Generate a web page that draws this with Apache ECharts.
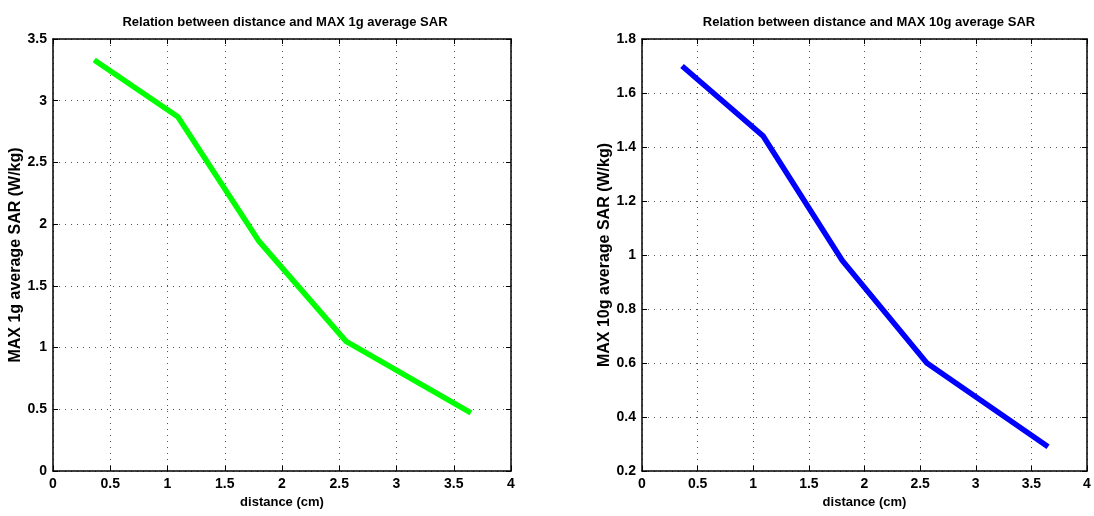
<!DOCTYPE html>
<html>
<head>
<meta charset="utf-8">
<script src="https://cdn.jsdelivr.net/npm/echarts@6/dist/echarts.min.js"></script>
<style>
html,body{margin:0;padding:0;background:#fff;}
#chart{width:1094px;height:516px;}
</style>
</head>
<body>
<div id="chart"></div>
<script>
// distance (cm) of each measurement
var distance = [0.36, 1.09, 1.80, 2.56, 3.65];
// max 1g / 10g averaged SAR (W/kg)
var sar1g = [3.33, 2.87, 1.86, 1.05, 0.47];
var sar10g = [1.70, 1.44, 0.98, 0.60, 0.29];
var titles = ['Relation between distance and MAX 1g average SAR', 'Relation between distance and MAX 10g average SAR'];
var yNames = ['MAX 1g average SAR (W/kg)', 'MAX 10g average SAR (W/kg)'];
var xName = 'distance (cm)';

function pairs(xs, ys){
  var out = [];
  for(var i=0;i<xs.length;i++){ out.push([xs[i], ys[i]]); }
  return out;
}

var font = 'Liberation Sans, Arial, sans-serif';
var dotted = {show:true, lineStyle:{type:[1,5], color:'#555', width:1}};

function fmt(v){ return String(+v.toFixed(1)); }

function mainX(idx){
  return {
    type:'value', gridIndex:idx, min:0, max:4, interval:0.5,
    name:xName, nameLocation:'middle', nameGap:25,
    nameTextStyle:{fontFamily:font, fontWeight:'bold', fontSize:13, color:'#000'},
    axisLine:{show:true, onZero:false, lineStyle:{color:'#000', width:1.5}},
    axisTick:{show:true, inside:true, length:5, lineStyle:{color:'#000'}},
    axisLabel:{fontFamily:font, fontWeight:'bold', fontSize:14, color:'#000', margin:6, formatter:fmt},
    splitLine:dotted
  };
}
function mainY(idx, min, max, step){
  return {
    type:'value', gridIndex:idx, min:min, max:max, interval:step,
    name:yNames[idx], nameLocation:'middle', nameGap:29,
    nameTextStyle:{fontFamily:font, fontWeight:'bold', fontSize:16, color:'#000'},
    axisLine:{show:true, onZero:false, lineStyle:{color:'#000', width:1.5}},
    axisTick:{show:true, inside:true, length:5, lineStyle:{color:'#000'}},
    axisLabel:{fontFamily:font, fontWeight:'bold', fontSize:14, color:'#000', margin:6, formatter:fmt},
    splitLine:dotted
  };
}
function boxX(idx){
  return {type:'value', gridIndex:idx, position:'top', min:0, max:4, interval:0.5,
    axisLine:{show:true, onZero:false, lineStyle:{color:'#000', width:1.5}},
    axisTick:{show:true, inside:true, length:5, lineStyle:{color:'#000'}},
    axisLabel:{show:false}, splitLine:{show:false}};
}
function boxY(idx, min, max, step){
  return {type:'value', gridIndex:idx, position:'right', min:min, max:max, interval:step,
    axisLine:{show:true, onZero:false, lineStyle:{color:'#000', width:1.5}},
    axisTick:{show:true, inside:true, length:5, lineStyle:{color:'#000'}},
    axisLabel:{show:false}, splitLine:{show:false}};
}

var option = {
  animation:false,
  backgroundColor:'#fff',
  title:[
    {text:titles[0], left:280, top:11, textAlign:'center',
      textStyle:{fontFamily:font, fontWeight:'bold', fontSize:13, color:'#000'}},
    {text:titles[1], left:864, top:11, textAlign:'center',
      textStyle:{fontFamily:font, fontWeight:'bold', fontSize:13, color:'#000'}}
  ],
  grid:[
    {left:53, top:39, width:458, height:432},
    {left:642, top:39, width:445, height:432}
  ],
  xAxis:[mainX(0), mainX(1), boxX(0), boxX(1)],
  yAxis:[mainY(0, 0, 3.5, 0.5), mainY(1, 0.2, 1.8, 0.2), boxY(0, 0, 3.5, 0.5), boxY(1, 0.2, 1.8, 0.2)],
  series:[
    {type:'line', xAxisIndex:0, yAxisIndex:0, data:pairs(distance, sar1g),
      showSymbol:false, lineStyle:{color:'#00ff00', width:5.5}},
    {type:'line', xAxisIndex:1, yAxisIndex:1, data:pairs(distance, sar10g),
      showSymbol:false, lineStyle:{color:'#0000ff', width:5.5}}
  ]
};

var myChart = echarts.init(document.getElementById('chart'));
myChart.setOption(option);
</script>
</body>
</html>
